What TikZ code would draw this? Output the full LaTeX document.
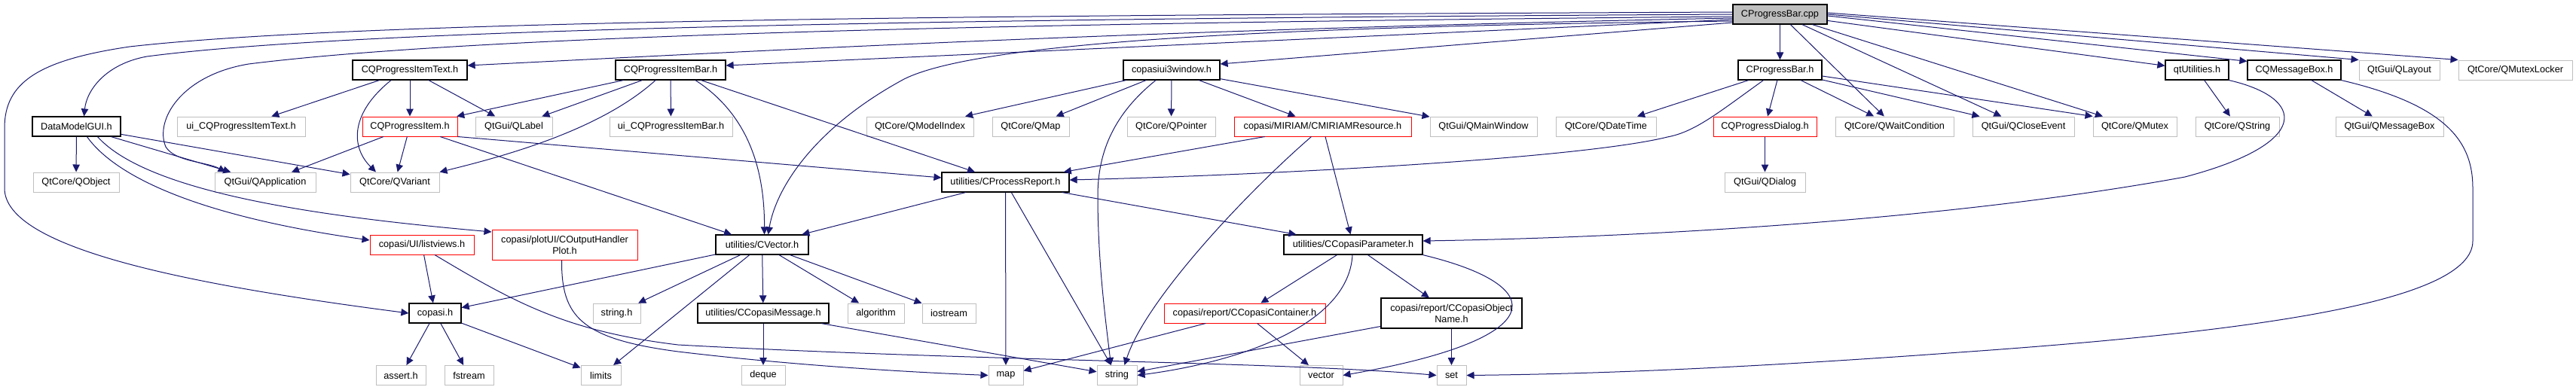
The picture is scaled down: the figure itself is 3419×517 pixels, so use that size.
\documentclass[tikz,border=0pt]{standalone}
\usepackage{fontspec}
\setmainfont{Liberation Sans}
\usetikzlibrary{arrows.meta,calc}
\definecolor{edgec}{HTML}{191970}
\definecolor{extc}{HTML}{BFBFBF}
\begin{document}
\begin{tikzpicture}[x=1pt,y=-1pt,font=\fontsize{12.7}{15}\selectfont,
  box/.style={rectangle,inner sep=0pt,minimum height=26pt,text=black},
  doc/.style={box,draw=black,line width=1.2pt,fill=white},
  ext/.style={box,draw=extc,line width=1pt,fill=white},
  trunc/.style={box,draw=red,line width=1pt,fill=white},
  root/.style={box,draw=black,line width=1.2pt,fill=extc},
  two/.style={align=center,minimum height=40pt},
  edge/.style={draw=edgec,line width=1pt,-{Triangle[length=10pt,width=9.5pt]}}]
\useasboundingbox (0,0) rectangle (3419,517);
% row 1
\node[root,minimum width=125pt] (cpp) at (2362.5,19) {CProgressBar.cpp};
% row 2
\node[doc,minimum width=152pt] (itemtext) at (544,93) {CQProgressItemText.h};
\node[doc,minimum width=146pt] (itembar) at (890,93) {CQProgressItemBar.h};
\node[doc,minimum width=128pt] (c3win) at (1555,93) {copasiui3window.h};
\node[doc,minimum width=111pt] (pbh) at (2362.5,93) {CProgressBar.h};
\node[doc,minimum width=84pt] (qtutil) at (2916,93) {qtUtilities.h};
\node[doc,minimum width=124pt] (msgbox) at (3045,93) {CQMessageBox.h};
\node[ext,minimum width=107pt] (qlayout) at (3184.5,93) {QtGui/QLayout};
\node[ext,minimum width=151pt] (qmutexlocker) at (3338.5,93) {QtCore/QMutexLocker};
% row 3
\node[doc,minimum width=117pt] (dmgui) at (101.5,168) {DataModelGUI.h};
\node[ext,minimum width=170pt] (uiitemtext) at (320,168) {ui\_CQProgressItemText.h};
\node[trunc,minimum width=126pt] (item) at (544,168) {CQProgressItem.h};
\node[ext,minimum width=102pt] (qlabel) at (682,168) {QtGui/QLabel};
\node[ext,minimum width=163pt] (uiitembar) at (890.5,168) {ui\_CQProgressItemBar.h};
\node[ext,minimum width=142pt] (qmodelindex) at (1221,168) {QtCore/QModelIndex};
\node[ext,minimum width=102pt] (qmap) at (1368,168) {QtCore/QMap};
\node[ext,minimum width=117pt] (qpointer) at (1554.5,168) {QtCore/QPointer};
\node[trunc,minimum width=235pt] (miriam) at (1755.5,168) {copasi/MIRIAM/CMIRIAMResource.h};
\node[ext,minimum width=142pt] (qmainwindow) at (1969,168) {QtGui/QMainWindow};
\node[ext,minimum width=133pt] (qdatetime) at (2131.5,168) {QtCore/QDateTime};
\node[trunc,minimum width=137pt] (dialog) at (2342.5,168) {CQProgressDialog.h};
\node[ext,minimum width=157pt] (qwait) at (2514.5,168) {QtCore/QWaitCondition};
\node[ext,minimum width=135pt] (qclose) at (2685.5,168) {QtGui/QCloseEvent};
\node[ext,minimum width=111pt] (qmutex) at (2833.5,168) {QtCore/QMutex};
\node[ext,minimum width=111pt] (qstring) at (2969.5,168) {QtCore/QString};
\node[ext,minimum width=143pt] (qmsgbox) at (3171.5,168) {QtGui/QMessageBox};
% row 4
\node[ext,minimum width=114pt] (qobject) at (101,242) {QtCore/QObject};
\node[ext,minimum width=134pt] (qapp) at (352,242) {QtGui/QApplication};
\node[ext,minimum width=118pt] (qvariant) at (524,242) {QtCore/QVariant};
\node[doc,minimum width=169pt] (preport) at (1334.5,242) {utilities/CProcessReport.h};
\node[ext,minimum width=107pt] (qdialog) at (2342.5,242) {QtGui/QDialog};
% row 5
\node[trunc,minimum width=138pt] (listviews) at (560,325) {copasi/UI/listviews.h};
\node[trunc,two,minimum width=193pt] (outplot) at (749.5,325) {copasi/plotUI/COutputHandler\\Plot.h};
\node[doc,minimum width=123pt] (cvector) at (1011.5,325) {utilities/CVector.h};
\node[doc,minimum width=184pt] (cparam) at (1796,325) {utilities/CCopasiParameter.h};
% row 6
\node[doc,minimum width=69pt] (copasih) at (577.5,416) {copasi.h};
\node[ext,minimum width=63pt] (stringh) at (818.5,416) {string.h};
\node[doc,minimum width=174pt] (cmessage) at (1013,416) {utilities/CCopasiMessage.h};
\node[ext,minimum width=75pt] (algorithm) at (1162.5,416) {algorithm};
\node[ext,minimum width=71pt] (iostream) at (1259.5,416) {iostream};
\node[trunc,minimum width=214pt] (container) at (1652,416) {copasi/report/CCopasiContainer.h};
\node[doc,two,minimum width=187pt] (objname) at (1926.5,416) {copasi/report/CCopasiObject\\Name.h};
% row 7
\node[ext,minimum width=66pt] (asserth) at (532,498.5) {assert.h};
\node[ext,minimum width=65pt] (fstream) at (622.5,498.5) {fstream};
\node[ext,minimum width=53pt] (limits) at (797.5,498.5) {limits};
\node[ext,minimum width=58pt] (deque) at (1013,498.5) {deque};
\node[ext,minimum width=46pt] (map) at (1335,498.5) {map};
\node[ext,minimum width=53pt] (string) at (1482.5,498.5) {string};
\node[ext,minimum width=57pt] (vector) at (1753.5,498.5) {vector};
\node[ext,minimum width=39pt] (set) at (1926.5,498.5) {set};

% edges from CProgressBar.cpp
\draw[edge] ($(cpp.west)+(0,-3)$) .. controls (1400,20) and (500,25) .. (172,62) .. controls (50,80) and (6,110) .. (6,170) -- (6,250) .. controls (6,330) and (250,378) .. (copasih.west);
\draw[edge] ($(cpp.west)+(0,0)$) .. controls (1400,24) and (500,35) .. (195,75) .. controls (140,85) and (115,120) .. ($(dmgui.north)+(10,0)$);
\draw[edge] ($(cpp.west)+(0,3)$) .. controls (1400,30) and (650,45) .. (330,85) .. controls (240,100) and (205,160) .. (220,195) .. controls (232,215) and (275,215) .. ($(qapp.north west)+(15,0)$);
\draw[edge] ($(cpp.west)+(0,5)$) .. controls (1500,40) and (1000,68) .. ($(itemtext.east)+(0,-6)$);
\draw[edge] ($(cpp.west)+(0,7)$) -- ($(itembar.east)+(0,-6)$);
\draw[edge] ($(cpp.west)+(0,9)$) .. controls (1700,35) and (1300,55) .. (1200,105) .. controls (1080,170) and (1030,250) .. ($(cvector.north)+(8,0)$);
\draw[edge] ($(cpp.west)+(0,11)$) -- ($(c3win.east)+(0,-8)$);
\draw[edge] (cpp) -- (pbh);
\draw[edge] (cpp) -- (qwait);
\draw[edge] (cpp) -- (qclose);
\draw[edge] (cpp) -- (qmutex);
\draw[edge] (cpp) -- (qtutil);
\draw[edge] ($(cpp.east)+(0,2)$) -- ($(msgbox.north west)+(0,2)$);
\draw[edge] ($(cpp.east)+(0,0)$) -- (qlayout.north west);
\draw[edge] ($(cpp.east)+(0,-2)$) -- (qmutexlocker.north west);
% CQProgressItemText.h
\draw[edge] (itemtext) -- (uiitemtext);
\draw[edge] (itemtext) -- (item);
\draw[edge] (itemtext) -- (qlabel);
\draw[edge] ($(itemtext.south)+(-25,0)$) .. controls (465,150) and (465,195) .. ($(qvariant.north)+(-25,0)$);
% CQProgressItemBar.h
\draw[edge] (itembar) -- (item);
\draw[edge] (itembar) -- (qlabel);
\draw[edge] (itembar) -- (uiitembar);
\draw[edge] ($(itembar.south)+(-20,0)$) .. controls (800,170) and (680,205) .. (qvariant.north east);
\draw[edge] ($(itembar.south)+(33,0)$) .. controls (990,150) and (1015,220) .. ($(cvector.north)+(3,0)$);
\draw[edge] (itembar) -- (preport);
% copasiui3window.h
\draw[edge] (c3win) -- (qmodelindex);
\draw[edge] (c3win) -- (qmap);
\draw[edge] (c3win) -- (qpointer);
\draw[edge] (c3win) -- (miriam);
\draw[edge] (c3win) -- (qmainwindow);
\draw[edge] ($(c3win.south)+(-21,0)$) .. controls (1480,150) and (1457,200) .. (1457,260) .. controls (1457,350) and (1468,430) .. ($(string.north)+(-8,0)$);
% CProgressBar.h
\draw[edge] (pbh) -- (qdatetime);
\draw[edge] (pbh) -- (dialog);
\draw[edge] (pbh) -- (qwait);
\draw[edge] (pbh) -- (qclose);
\draw[edge] ($(pbh.east)+(0,8)$) -- (qmutex.north west);
\draw[edge] ($(pbh.south)+(-22,0)$) .. controls (2280,150) and (2250,175) .. (2213,182) .. controls (2100,210) and (1700,232) .. ($(preport.east)+(0,-3)$);
\draw[edge] (dialog) -- (qdialog);
% qtUtilities.h, CQMessageBox.h
\draw[edge] (qtutil) -- (qstring);
\draw[edge] (qtutil.south east) .. controls (3060,130) and (3070,190) .. (2900,235) .. controls (2600,290) and (2200,315) .. ($(cparam.east)+(0,-5)$);
\draw[edge] (msgbox) -- (qmsgbox);
\draw[edge] (msgbox.south east) .. controls (3250,140) and (3282,190) .. (3282,250) -- (3282,320) .. controls (3282,400) and (3000,440) .. (2600,468) .. controls (2300,490) and (2100,497) .. (set.east);
% DataModelGUI.h
\draw[edge] (dmgui) -- (qobject);
\draw[edge] (dmgui) -- (qapp);
\draw[edge] (dmgui) -- (qvariant);
\draw[edge] ($(dmgui.south)+(14,0)$) .. controls (150,230) and (250,285) .. ($(listviews.west)+(0,-6)$);
\draw[edge] ($(dmgui.south)+(28,0)$) .. controls (200,260) and (450,290) .. ($(outplot.west)+(0,-17)$);
% CQProgressItem.h
\draw[edge] (item) -- (qapp);
\draw[edge] (item) -- (qvariant);
\draw[edge] (item) -- (cvector);
\draw[edge] (item.south east) -- ($(preport.west)+(0,-6)$);
% MIRIAM
\draw[edge] (miriam) -- (preport);
\draw[edge] ($(miriam.south)+(-15,0)$) .. controls (1650,260) and (1520,400) .. ($(string.north)+(10,0)$);
\draw[edge] (miriam) -- (cparam);
% CProcessReport
\draw[edge] (preport) -- (cvector);
\draw[edge] (preport) -- (map);
\draw[edge] (preport) -- (string);
\draw[edge] (preport) -- (cparam);
% listviews, outplot
\draw[edge] (listviews) -- (copasih);
\draw[edge] ($(listviews.south)+(17,0)$) .. controls (680,400) and (750,440) .. (900,458) .. controls (1300,480) and (1700,480) .. (set.west);
\draw[edge] ($(outplot.south)+(-4,0)$) .. controls (745,420) and (770,450) .. (900,467) .. controls (1050,485) and (1200,494) .. (map.west);
% CVector
\draw[edge] (cvector) -- (copasih);
\draw[edge] (cvector) -- (stringh);
\draw[edge] (cvector) -- (limits);
\draw[edge] (cvector) -- (cmessage);
\draw[edge] (cvector) -- (algorithm);
\draw[edge] (cvector) -- (iostream);
% copasi.h
\draw[edge] (copasih) -- (asserth);
\draw[edge] (copasih) -- (fstream);
\draw[edge] (copasih) -- (limits);
% CCopasiMessage
\draw[edge] (cmessage) -- (deque);
\draw[edge] (cmessage) -- (string);
% CCopasiParameter
\draw[edge] (cparam) -- (container);
\draw[edge] (cparam) -- (objname);
\draw[edge] ($(cparam.south)+(-1,0)$) .. controls (1790,430) and (1650,480) .. (string.east);
\draw[edge] (cparam.south east) .. controls (2060,380) and (2060,450) .. (vector.east);
% container, objname
\draw[edge] (container) -- (map);
\draw[edge] (container) -- (vector);
\draw[edge] (objname) -- (string);
\draw[edge] (objname) -- (set);
\end{tikzpicture}
\end{document}
